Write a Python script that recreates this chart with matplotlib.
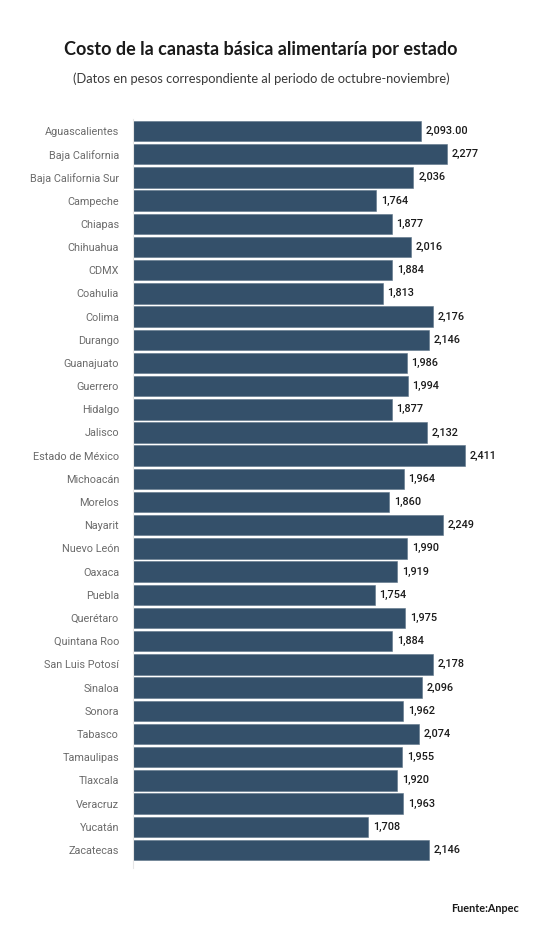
import matplotlib
matplotlib.use('Agg')
import matplotlib.pyplot as plt

estados = ["Aguascalientes", "Baja California", "Baja California Sur", "Campeche",
           "Chiapas", "Chihuahua", "CDMX", "Coahulia", "Colima", "Durango",
           "Guanajuato", "Guerrero", "Hidalgo", "Jalisco", "Estado de México",
           "Michoacán", "Morelos", "Nayarit", "Nuevo León", "Oaxaca", "Puebla",
           "Querétaro", "Quintana Roo", "San Luis Potosí", "Sinaloa", "Sonora",
           "Tabasco", "Tamaulipas", "Tlaxcala", "Veracruz", "Yucatán", "Zacatecas"]
costos = [2093, 2277, 2036, 1764, 1877, 2016, 1884, 1813, 2176, 2146,
          1986, 1994, 1877, 2132, 2411, 1964, 1860, 2249, 1990, 1919, 1754,
          1975, 1884, 2178, 2096, 1962, 2074, 1955, 1920, 1963, 1708, 2146]
etiquetas = ["2,093.00"] + [f"{v:,}" for v in costos[1:]]

fig = plt.figure(figsize=(5.5, 9.48), dpi=100)
ax = fig.add_axes([0.2418, 0.0844, 0.72, 0.7901])

pos = list(range(len(estados)))
ax.barh(pos, costos, height=0.88, color='#34506a', edgecolor='#5d7488', linewidth=0.4)
ax.set_ylim(len(estados) - 1 + 0.78, -0.52)
ax.set_xlim(0, 2875)

for y, v, t in zip(pos, costos, etiquetas):
    ax.text(v + 35, y, t, va='center', ha='left', fontsize=7.8,
            family='Roboto', fontweight='medium', color='#1a1a1a')

ax.set_yticks(pos)
ax.set_yticklabels(estados, family='Roboto', fontsize=7.8, color='#6b6b6b')
ax.tick_params(axis='y', length=0, pad=10)
ax.set_xticks([])
for s in ['top', 'right', 'bottom']:
    ax.spines[s].set_visible(False)
ax.spines['left'].set_color('#e6e6e6')
ax.spines['left'].set_linewidth(0.8)

fig.text(0.475, 0.948, "Costo de la canasta básica alimentaría por estado",
         ha='center', va='center', fontsize=13, fontweight='bold',
         family='Lato', color='#1a1a1a')
fig.text(0.475, 0.917, "(Datos en pesos correspondiente al periodo de octubre-noviembre)",
         ha='center', va='center', fontsize=9.3,
         family='Lato', color='#3a3a3a')
fig.text(0.944, 0.042, "Fuente:Anpec", ha='right', va='center', fontsize=7.8,
         fontweight='bold', family='Lato', color='#1a1a1a')

fig.savefig('out.png', dpi=100)
